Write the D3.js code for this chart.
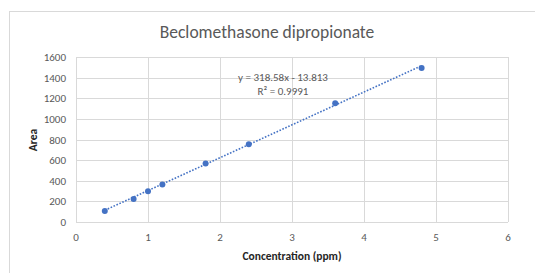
<!DOCTYPE html>
<html lang="en">
<head>
<meta charset="UTF-8">
<script src="https://d3js.org/d3.v7.min.js"></script>
<style>
    body { margin: 0; background: #fff; }
    svg text { font-family: Carlito, "Liberation Sans", "Noto Sans", sans-serif; }
</style>
</head>
<body>
<svg width="535" height="273"></svg>
<script>
    // data
    const concentration = [0.4, 0.8, 1.0, 1.2, 1.8, 2.4, 3.6, 4.8];
    const area = [107, 224, 299, 364, 568, 753, 1152, 1493];
    const xTicks = [0, 1, 2, 3, 4, 5, 6];
    const yTicks = [0, 200, 400, 600, 800, 1000, 1200, 1400, 1600];
    const slope = 318.58;
    const intercept = -13.813;

    const svg = d3.select("svg");

    // chart border
    svg.append("rect")
        .attr("x", 9.5).attr("y", 11.5)
        .attr("width", 540).attr("height", 280)
        .attr("fill", "none")
        .attr("stroke", "#d9d9d9");

    const x = d3.scaleLinear().domain([0, 6]).range([76, 508]);
    const y = d3.scaleLinear().domain([0, 1600]).range([222, 57]);

    // gridlines
    svg.append("g").selectAll("line").data(yTicks).join("line")
        .attr("x1", x(0)).attr("x2", x(6))
        .attr("y1", d => Math.round(y(d)) + 0.5).attr("y2", d => Math.round(y(d)) + 0.5)
        .attr("stroke", "#d9d9d9");
    svg.append("g").selectAll("line").data(xTicks).join("line")
        .attr("y1", y(0)).attr("y2", y(1600))
        .attr("x1", d => Math.round(x(d)) + 0.5).attr("x2", d => Math.round(x(d)) + 0.5)
        .attr("stroke", "#d9d9d9");

    // tick labels
    svg.append("g").selectAll("text").data(yTicks).join("text")
        .attr("x", 66).attr("y", d => y(d) + 4)
        .attr("text-anchor", "end")
        .attr("font-size", 11)
        .attr("fill", "#595959")
        .text(d => d);
    svg.append("g").selectAll("text").data(xTicks).join("text")
        .attr("x", d => x(d)).attr("y", 241)
        .attr("text-anchor", "middle")
        .attr("font-size", 11)
        .attr("fill", "#595959")
        .text(d => d);

    // titles
    svg.append("text")
        .attr("x", 267).attr("y", 38)
        .attr("text-anchor", "middle")
        .attr("font-size", 17.5)
        .attr("fill", "#595959")
        .text("Beclomethasone dipropionate");
    svg.append("text")
        .attr("x", 292).attr("y", 260)
        .attr("text-anchor", "middle")
        .attr("font-size", 11.5)
        .attr("font-weight", "bold")
        .attr("fill", "#262626")
        .text("Concentration (ppm)");
    svg.append("text")
        .attr("transform", "translate(37,140) rotate(-90)")
        .attr("text-anchor", "middle")
        .attr("font-size", 11.5)
        .attr("font-weight", "bold")
        .attr("fill", "#262626")
        .text("Area");

    // trendline
    const ends = [d3.min(concentration), d3.max(concentration)];
    svg.append("line")
        .attr("x1", x(ends[0])).attr("y1", y(slope * ends[0] + intercept))
        .attr("x2", x(ends[1])).attr("y2", y(slope * ends[1] + intercept))
        .attr("stroke", "#4472c4")
        .attr("stroke-width", 1.6)
        .attr("stroke-dasharray", "1.6,1.6");

    // points
    svg.append("g").selectAll("circle").data(concentration).join("circle")
        .attr("cx", d => x(d))
        .attr("cy", (d, i) => y(area[i]))
        .attr("r", 3)
        .attr("fill", "#4472c4");

    // equation
    svg.append("text")
        .attr("x", 283).attr("y", 81)
        .attr("text-anchor", "middle")
        .attr("font-size", 11)
        .attr("fill", "#595959")
        .text("y = 318.58x - 13.813");
    svg.append("text")
        .attr("x", 283).attr("y", 95)
        .attr("text-anchor", "middle")
        .attr("font-size", 11)
        .attr("fill", "#595959")
        .text("R² = 0.9991");
</script>
</body>
</html>
